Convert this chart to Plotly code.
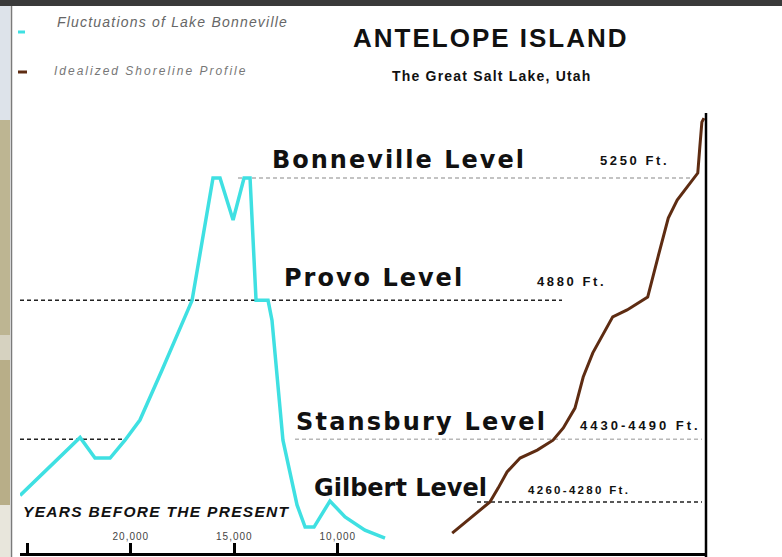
import plotly.graph_objects as go

# ---------------- data ----------------
# Fluctuations of Lake Bonneville: years before present vs lake elevation (ft)
bonn_years = [25350, 22450, 21730, 21000, 20280, 19560, 18490, 17480, 17040,
              16030, 15690, 15060, 14530, 14240, 13950, 13370, 13180, 12650,
              11970, 11580, 11150, 10380, 9650, 8690, 7720]
bonn_elev = [4290, 4465, 4403, 4403, 4457, 4518, 4669, 4814, 4880,
             5250, 5250, 5123, 5250, 5250, 4880, 4880, 4820, 4457,
             4261, 4194, 4194, 4273, 4225, 4185, 4161]

# Idealized shoreline profile: relative distance (0-100) vs elevation (ft)
prof_dist = [63.0, 68.5, 69.7, 71.0, 72.9, 75.4, 77.7, 79.2, 80.9, 82.1, 83.5,
             86.4, 88.5, 91.5, 93.0, 94.5, 95.8, 98.8, 99.1, 99.4, 99.7]
prof_elev = [4176, 4270, 4312, 4361, 4403, 4427, 4457, 4494, 4554, 4648, 4721,
             4830, 4851, 4890, 5011, 5129, 5183, 5265, 5344, 5419, 5431]

level_names = ["Bonneville Level", "Provo Level", "Stansbury Level", "Gilbert Level"]
level_elev = [5250, 4880, 4460, 4270]
level_ft_labels = ["5250 Ft.", "4880 Ft.", "4430-4490 Ft.", "4260-4280 Ft."]

tick_years = [25000, 20000, 15000, 10000]
tick_text = ["25,000", "20,000", "15,000", "10,000"]

# ---------------- layout helpers (pixel -> paper) ----------------
W, H = 782, 557
PL, PR, PT, PB = 20, 706, 6, 553


def px(x):
    return (x - PL) / (PR - PL)


def py(y):
    return (PB - y) / (PB - PT)


fig = go.Figure()

fig.add_trace(go.Scatter(x=bonn_years, y=bonn_elev, mode="lines",
                         line=dict(color="#3fe0e2", width=3.5),
                         name="Fluctuations of Lake Bonneville",
                         xaxis="x", yaxis="y", showlegend=False))
fig.add_trace(go.Scatter(x=prof_dist, y=prof_elev, mode="lines",
                         line=dict(color="#5e2c12", width=3),
                         name="Idealized Shoreline Profile",
                         xaxis="x2", yaxis="y", showlegend=False))

shapes = []
# top dark band
shapes.append(dict(type="rect", xref="paper", yref="paper", x0=px(0), x1=px(W),
                   y0=py(6), y1=py(0), fillcolor="#3a3a3a", line_width=0, layer="above"))
# left photo strip
strip = [(6, 120, "#dde3ea"), (120, 335, "#bdb592"), (335, 360, "#d6d2c0"),
         (360, 505, "#b8ae88"), (505, 557, "#e8e6dc")]
for y0, y1, c in strip:
    shapes.append(dict(type="rect", xref="paper", yref="paper", x0=px(0), x1=px(10),
                       y0=py(y1), y1=py(y0), fillcolor=c, line_width=0, layer="above"))
shapes.append(dict(type="rect", xref="paper", yref="paper", x0=px(10), x1=px(11),
                   y0=py(557), y1=py(6), fillcolor="#f4f4f4", line_width=0, layer="above"))
shapes.append(dict(type="line", xref="paper", yref="paper", x0=px(11.5), x1=px(11.5),
                   y0=py(557), y1=py(6), line=dict(color="#7a7a7a", width=1.5)))
# right frame line
shapes.append(dict(type="line", xref="paper", yref="paper", x0=px(706), x1=px(706),
                   y0=py(557), y1=py(113), line=dict(color="#000", width=2.5)))

# level lines (segments in pixel extents, elevation in data units)
level_segments = [
    [(238, 695, "#b0b0b0")],
    [(20, 562, "#222222")],
    [(20, 124, "#222222"), (295, 702, "#b8b8b8")],
    [(477, 702, "#222222")],
]
for elev, segs in zip(level_elev, level_segments):
    for x0, x1, c in segs:
        shapes.append(dict(type="line", xref="paper", yref="y", x0=px(x0), x1=px(x1),
                           y0=elev, y1=elev, line=dict(color=c, width=1.5, dash="4px,3px"),
                           layer="below"))
# legend markers
shapes.append(dict(type="line", xref="paper", yref="paper", x0=px(18), x1=px(25),
                   y0=py(32), y1=py(32), line=dict(color="#3fe0e2", width=3)))
shapes.append(dict(type="line", xref="paper", yref="paper", x0=px(18), x1=px(27),
                   y0=py(72), y1=py(72), line=dict(color="#5e2c12", width=3)))

ann = []


def add_text(text, x, y, size, family="Liberation Sans", color="#111", ls=0,
             bold=False, italic=False):
    t = text
    if bold:
        t = "<b>" + t + "</b>"
    if italic:
        t = "<i>" + t + "</i>"
    if ls:
        t = '<span style="letter-spacing:%spx">%s</span>' % (ls, t)
    ann.append(dict(text=t, x=px(x), y=py(y), xref="paper", yref="paper",
                    xanchor="left", yanchor="middle", showarrow=False,
                    font=dict(size=size, family=family, color=color)))


add_text("Fluctuations of Lake Bonneville", 55, 22, 14, color="#666", ls=1.2, italic=True)
add_text("Idealized Shoreline Profile", 52, 71, 12, color="#777", ls=2.0, italic=True)
add_text("ANTELOPE ISLAND", 351, 38, 26, color="#111", ls=2.0, bold=True)
add_text("The Great Salt Lake, Utah", 390, 76, 14, color="#111", ls=1.2, bold=True)

level_label_pos = [(270, 160, 2.0), (282, 278, 2.0), (294, 422, 2.2), (312, 488, 0)]
ft_label_pos = [(598, 160, 13, 2.6), (535, 281, 13, 2.6), (578, 425, 13, 3.0), (526, 490, 11.5, 2.3)]
for name, (x, y, ls) in zip(level_names, level_label_pos):
    add_text(name, x, y, 24, family="DejaVu Sans", color="#111", ls=ls, bold=True)
for lab, (x, y, s, ls) in zip(level_ft_labels, ft_label_pos):
    add_text(lab, x, y, s, color="#111", ls=ls, bold=True)

add_text("YEARS BEFORE THE PRESENT", 21, 511, 15.5, color="#111", ls=1.3, bold=True, italic=True)

fig.update_layout(
    width=W, height=H,
    margin=dict(l=PL, r=W - PR, t=PT, b=H - PB, pad=0),
    paper_bgcolor="white", plot_bgcolor="white",
    showlegend=False,
    xaxis=dict(range=[25353, -7787], showgrid=False, zeroline=False,
               showline=True, linecolor="#000", linewidth=2.5,
               ticks="inside", ticklen=10, tickwidth=2.5, tickcolor="#000",
               tickvals=tick_years,
               ticktext=['<span style="letter-spacing:1px">%s</span>' % t for t in tick_text],
               ticklabelposition="inside",
               tickfont=dict(size=10, family="Liberation Sans", color="#444"),
               fixedrange=True),
    xaxis2=dict(range=[0, 100], overlaying="x", visible=False, fixedrange=True),
    yaxis=dict(range=[4115.7, 5770.3], visible=False, showgrid=False, zeroline=False,
               fixedrange=True),
    shapes=shapes,
    annotations=ann,
)

fig.write_html("out.html", config={"displayModeBar": False},
               post_script="document.body.style.margin='0';document.body.style.overflow='hidden';")
